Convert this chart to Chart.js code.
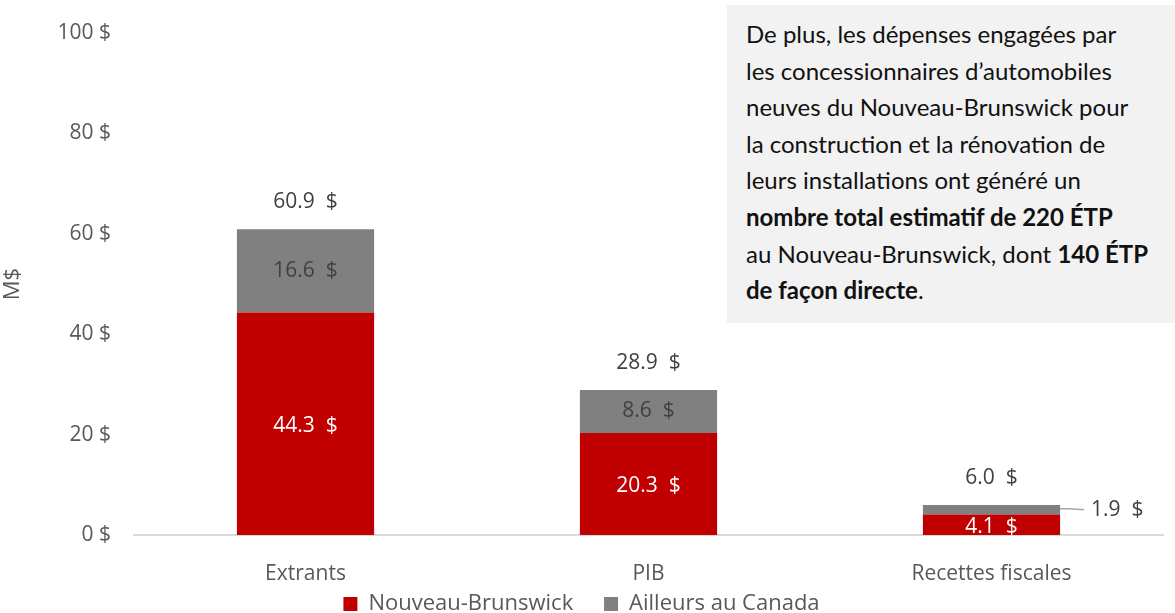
<!DOCTYPE html>
<html>
<head>
<meta charset="utf-8">
<script src="https://cdn.jsdelivr.net/npm/chart.js@4/dist/chart.umd.min.js"></script>
<style>
  html, body { margin: 0; background: #fff; overflow: hidden; }
  #wrap { position: relative; width: 1175px; height: 613px; overflow: hidden; }
  #note {
    position: absolute; left: 727px; top: 5px; width: 448px; height: 318px;
    background: #f2f2f2; box-sizing: border-box; padding: 11px 0 0 19px;
    font-family: Lato, "Liberation Sans", sans-serif; font-size: 24px; line-height: 36.6px;
    color: #111; white-space: nowrap;
  }
  #note b { font-weight: 700; }
</style>
</head>
<body>
<div id="wrap">
  <canvas id="myChart" width="1175" height="625"></canvas>
  <div id="note">De plus, les dépenses engagées par<br>les concessionnaires d’automobiles<br>neuves du Nouveau-Brunswick pour<br>la construction et la rénovation de<br>leurs installations ont généré un<br><b>nombre total estimatif de 220 ÉTP</b><br>au Nouveau-Brunswick, dont <b>140 ÉTP</b><br><b>de façon directe</b>.</div>
</div>
<script>
// Données
var categories = ['Extrants', 'PIB', 'Recettes fiscales'];
var nouveauBrunswick = [44.3, 20.3, 4.1];
var ailleursCanada = [16.6, 8.6, 1.9];
var totals = [60.9, 28.9, 6.0];

var fontFamily = '"Open Sans", "Noto Sans", sans-serif';

function fmt(v) { return v.toFixed(1) + '  $'; }

// Étiquettes de données
var labelsPlugin = {
  id: 'barLabels',
  afterDatasetsDraw: function (chart) {
    var ctx = chart.ctx;
    var m0 = chart.getDatasetMeta(0);
    var m1 = chart.getDatasetMeta(1);
    ctx.save();
    ctx.font = '21px ' + fontFamily;
    ctx.textAlign = 'center';
    ctx.textBaseline = 'middle';
    for (var i = 0; i < categories.length; i++) {
      var b0 = m0.data[i], b1 = m1.data[i];
      ctx.fillStyle = '#ffffff';
      ctx.fillText(fmt(nouveauBrunswick[i]), b0.x, (b0.y + b0.base) / 2 + 2);
      var h1 = b1.base - b1.y;
      if (h1 > 22) {
        ctx.fillStyle = '#404040';
        ctx.fillText(fmt(ailleursCanada[i]), b1.x, (b1.y + b1.base) / 2);
      } else {
        // petite valeur : étiquette à droite avec trait de rappel
        var ym = (b1.y + b1.base) / 2;
        var xr = b1.x + b1.width / 2;
        ctx.strokeStyle = '#a6a6a6';
        ctx.lineWidth = 1.5;
        ctx.beginPath();
        ctx.moveTo(xr, ym - 1);
        ctx.lineTo(xr + 10, ym - 1);
        ctx.lineTo(xr + 24, ym);
        ctx.stroke();
        ctx.fillStyle = '#404040';
        ctx.textAlign = 'left';
        ctx.fillText(fmt(ailleursCanada[i]), xr + 31, ym);
        ctx.textAlign = 'center';
      }
      ctx.fillStyle = '#404040';
      ctx.fillText(fmt(totals[i]), b1.x, b1.y - 27);
    }
    ctx.restore();
  }
};

var ctx = document.getElementById('myChart').getContext('2d');
var myChart = new Chart(ctx, {
  type: 'bar',
  data: {
    labels: categories,
    datasets: [{
      label: 'Nouveau-Brunswick',
      data: nouveauBrunswick,
      backgroundColor: '#c00000'
    }, {
      label: 'Ailleurs au Canada',
      data: ailleursCanada,
      backgroundColor: '#808080'
    }]
  },
  options: {
    responsive: false,
    animation: false,
    layout: { padding: { top: 33, right: 12, left: 0, bottom: 0 } },
    datasets: { bar: { categoryPercentage: 1, barPercentage: 0.4 } },
    scales: {
      x: {
        stacked: true,
        grid: { display: false },
        border: { color: '#d9d9d9', width: 2 },
        ticks: { color: '#595959', font: { family: fontFamily, size: 21 }, padding: 18 },
        afterFit: function (s) { s.height = 50; }
      },
      y: {
        stacked: true,
        min: 0, max: 100,
        grid: { display: false },
        border: { display: false },
        ticks: {
          stepSize: 20, padding: 15, color: '#595959',
          font: { family: fontFamily, size: 21 },
          callback: function (v) { return v + ' $'; }
        },
        title: { display: true, text: 'M$', color: '#595959', font: { family: fontFamily, size: 22 }, padding: { top: 0, bottom: 0 } },
        afterFit: function (s) { s.width = 134; }
      }
    },
    plugins: {
      legend: {
        position: 'bottom',
        labels: {
          color: '#595959',
          font: { family: fontFamily, size: 22 },
          boxWidth: 14, boxHeight: 14, padding: 8,
          generateLabels: function (chart) {
            var items = Chart.defaults.plugins.legend.labels.generateLabels(chart);
            items[0].text = items[0].text + '    ';
            return items;
          }
        }
      },
      tooltip: { enabled: false }
    }
  },
  plugins: [labelsPlugin]
});
</script>
</body>
</html>
